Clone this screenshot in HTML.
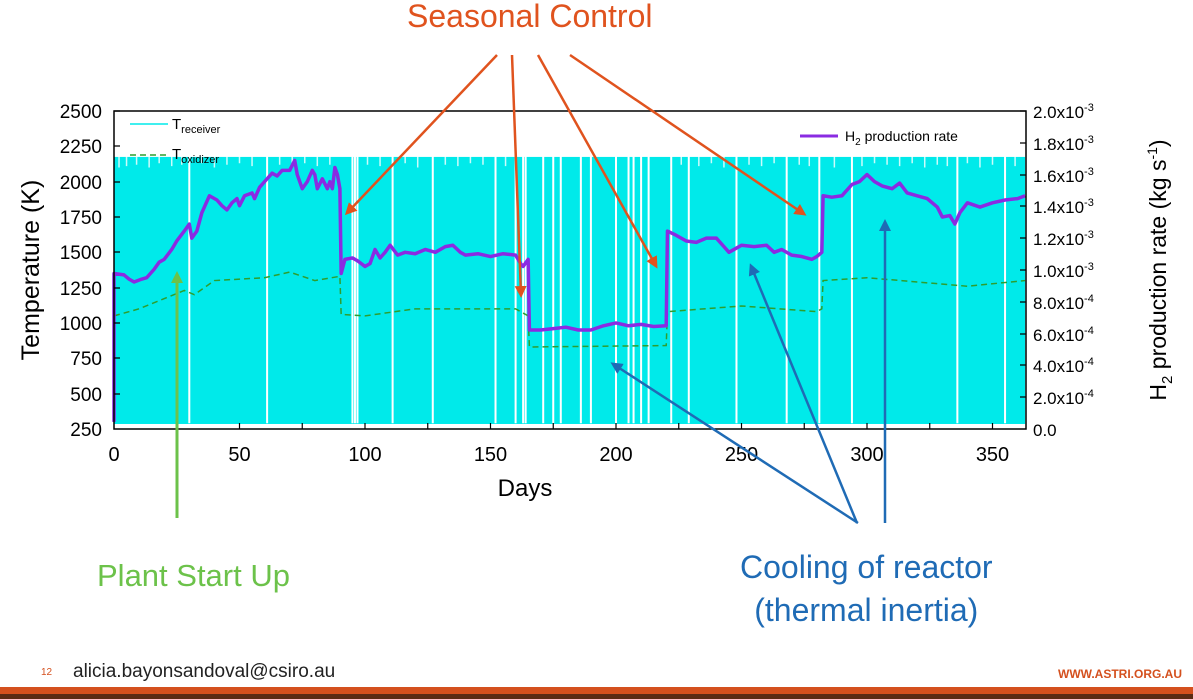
<!DOCTYPE html>
<html><head><style>
body{margin:0;background:#fff;width:1193px;height:699px;overflow:hidden;font-family:"Liberation Sans",sans-serif;position:relative}
.t{position:absolute;white-space:nowrap}
</style></head><body>
<svg width="1193" height="699" style="position:absolute;left:0;top:0" font-family="Liberation Sans, sans-serif">
<defs>
<marker id="ao" markerWidth="12" markerHeight="12" refX="9" refY="6" orient="auto" markerUnits="userSpaceOnUse" viewBox="0 0 12 12"><path d="M0,0L12,6L0,12z" fill="#e0531e"/></marker>
<marker id="ab" markerWidth="12" markerHeight="12" refX="9" refY="6" orient="auto" markerUnits="userSpaceOnUse" viewBox="0 0 12 12"><path d="M0,0L12,6L0,12z" fill="#1f6bb5"/></marker>
<marker id="ag" markerWidth="12" markerHeight="12" refX="9" refY="6" orient="auto" markerUnits="userSpaceOnUse" viewBox="0 0 12 12"><path d="M0,0L12,6L0,12z" fill="#6cc24a"/></marker>
</defs>
<g transform="translate(114,111) scale(2.51,-0.1413) translate(0,-2500)">
<rect x="0" y="285" width="363" height="1890" fill="#00eaea"/>
<g stroke="#fff" fill="none" stroke-width="0.8">
<path d="M30,290V2200M61,290V2200M95,290V2200M96,290V2200M97,290V2200M111,290V2200M127,290V2200M152,290V2200M160,290V2200M163,290V2200M164,290V2200M171,290V2200M175,290V2200M178,290V2200M190,290V2200M205,290V2200M207,290V2200M210,290V2200M213,290V2200M222,290V2200M229,290V2200M248,290V2200M268,290V2200M281,290V2200M294,290V2200M336,290V2200M355,290V2200M200,290V2200M186,290V2200"/>
</g>
<g stroke="#fff" fill="none" stroke-width="0.6" opacity="0.8">
<path d="M2,2100V2200M5,2110V2200M9,2120V2200M14,2100V2200M18,2130V2200M23,2110V2200M27,2120V2200M35,2130V2200M40,2100V2200M45,2120V2200M50,2130V2200M55,2110V2200M66,2120V2200M71,2100V2200M76,2130V2200M81,2110V2200M86,2120V2200M101,2120V2200M106,2110V2200M116,2130V2200M121,2100V2200M132,2120V2200M137,2110V2200M142,2130V2200M147,2120V2200M156,2110V2200M226,2120V2200M233,2110V2200M238,2130V2200M243,2100V2200M253,2120V2200M258,2110V2200M263,2130V2200M273,2120V2200M277,2110V2200M287,2100V2200M298,2110V2200M303,2130V2200M308,2120V2200M313,2110V2200M318,2130V2200M323,2100V2200M328,2120V2200M332,2110V2200M340,2130V2200M345,2100V2200M350,2120V2200M359,2110V2200"/>
</g>
<polyline vector-effect="non-scaling-stroke" fill="none" stroke="#2e9e2e" stroke-width="1.5" stroke-dasharray="6,4" points="0,1050 10,1100 28,1230 32,1200 40,1300 60,1320 70,1360 80,1300 90,1330 90.5,1060 100,1050 120,1100 160,1100 165,1050 165.5,830 220,840 220.5,1080 250,1120 280,1080 282,1100 282.5,1300 300,1320 340,1260 363,1300"/>
<polyline vector-effect="non-scaling-stroke" fill="none" stroke="#8a2be2" stroke-width="3.5" stroke-linejoin="round" points="0,300 0,1350 4,1340 6,1310 8,1290 11,1310 13,1320 16,1380 18,1430 20,1450 23,1520 25,1580 28,1650 30,1700 31,1600 33,1650 35,1780 38,1900 41,1870 43,1830 45,1800 47,1850 49,1880 50,1830 52,1900 55,1920 56,1880 58,1960 60,2000 63,2060 65,2040 67,2080 70,2080 72,2150 73,2050 75,1950 77,2000 79,2080 80,2050 81,1950 83,2020 85,1950 86,2000 87,1950 88,2100 89,2050 90,1950 90.5,1350 92,1450 95,1460 97,1440 100,1400 102,1420 104,1520 106,1460 108,1500 110,1550 113,1480 116,1500 120,1490 124,1520 128,1500 132,1540 135,1550 138,1500 140,1480 145,1490 150,1470 155,1490 160,1480 162,1420 163,1400 165,1450 165.5,950 170,950 175,960 180,970 185,950 190,950 195,980 200,1000 205,980 210,990 215,975 220,980 220.5,1650 224,1620 228,1580 232,1570 236,1600 240,1600 243,1540 245,1500 248,1530 250,1550 255,1540 260,1550 263,1500 266,1520 270,1480 274,1470 278,1450 280,1470 282,1500 282.5,1900 286,1890 290,1900 294,1980 297,2000 300,2050 303,2000 306,1970 310,1950 313,1990 316,1920 320,1900 324,1880 328,1820 330,1750 333,1760 335,1700 337,1780 340,1850 345,1820 350,1850 355,1870 360,1880 363,1900"/>
</g>
<rect x="114" y="111" width="912" height="318" fill="none" stroke="#000" stroke-width="1.5"/>
<g stroke="#000" stroke-width="1.2">
<path d="M114,111h6M114,146h6M114,182h6M114,217h6M114,252h6M114,288h6M114,323h6M114,358h6M114,394h6
M1026,111h-6M1026,143h-6M1026,175h-6M1026,206h-6M1026,238h-6M1026,270h-6M1026,302h-6M1026,334h-6M1026,365h-6M1026,397h-6
M176.75,429v-6M239.5,429v-6M302.25,429v-6M365,429v-6M427.75,429v-6M490.5,429v-6M553.25,429v-6M616,429v-6M678.75,429v-6M741.5,429v-6M804.25,429v-6M867,429v-6M929.75,429v-6M992.5,429v-6"/>
</g>
<g font-size="19" text-anchor="end" fill="#000">
<text x="102" y="118">2500</text><text x="102" y="153">2250</text><text x="102" y="189">2000</text><text x="102" y="224">1750</text><text x="102" y="259">1500</text><text x="102" y="295">1250</text><text x="102" y="330">1000</text><text x="102" y="365">750</text><text x="102" y="401">500</text><text x="102" y="436">250</text>
</g>
<g font-size="20" text-anchor="middle" fill="#000">
<text x="114" y="461">0</text><text x="239.5" y="461">50</text><text x="365" y="461">100</text><text x="490.5" y="461">150</text><text x="616" y="461">200</text><text x="741.5" y="461">250</text><text x="867" y="461">300</text><text x="992.5" y="461">350</text>
</g>
<text x="525" y="496" font-size="24" text-anchor="middle">Days</text>
<text transform="translate(39,270) rotate(-90)" font-size="25" text-anchor="middle">Temperature (K)</text>
<g font-size="17" fill="#000">
<text x="1033" y="118">2.0x10<tspan dy="-7" font-size="11">-3</tspan></text>
<text x="1033" y="150">1.8x10<tspan dy="-7" font-size="11">-3</tspan></text>
<text x="1033" y="182">1.6x10<tspan dy="-7" font-size="11">-3</tspan></text>
<text x="1033" y="213">1.4x10<tspan dy="-7" font-size="11">-3</tspan></text>
<text x="1033" y="245">1.2x10<tspan dy="-7" font-size="11">-3</tspan></text>
<text x="1033" y="277">1.0x10<tspan dy="-7" font-size="11">-3</tspan></text>
<text x="1033" y="309">8.0x10<tspan dy="-7" font-size="11">-4</tspan></text>
<text x="1033" y="341">6.0x10<tspan dy="-7" font-size="11">-4</tspan></text>
<text x="1033" y="372">4.0x10<tspan dy="-7" font-size="11">-4</tspan></text>
<text x="1033" y="404">2.0x10<tspan dy="-7" font-size="11">-4</tspan></text>
<text x="1033" y="436">0.0</text>
</g>
<text transform="translate(1166,270) rotate(-90)" font-size="23" text-anchor="middle">H<tspan font-size="15" dy="6">2</tspan><tspan dy="-6"> production rate (kg s</tspan><tspan font-size="14" dy="-9">-1</tspan><tspan dy="9">)</tspan></text>
<line x1="130" y1="124" x2="168" y2="124" stroke="#00eaea" stroke-width="1.5"/>
<text x="172" y="129" font-size="15">T<tspan font-size="11" dy="4">receiver</tspan></text>
<line x1="130" y1="155" x2="168" y2="155" stroke="#2e9e2e" stroke-width="1.5" stroke-dasharray="6,4"/>
<text x="172" y="159" font-size="15">T<tspan font-size="11" dy="4">oxidizer</tspan></text>
<line x1="800" y1="136" x2="838" y2="136" stroke="#8a2be2" stroke-width="3"/>
<text x="845" y="141" font-size="14">H<tspan font-size="10" dy="4">2</tspan><tspan dy="-4"> production rate</tspan></text>
<g stroke="#e0531e" stroke-width="2.5" marker-end="url(#ao)">
<line x1="497" y1="55" x2="347" y2="213"/><line x1="512" y1="55" x2="521" y2="295"/><line x1="538" y1="55" x2="656" y2="266"/><line x1="570" y1="55" x2="804" y2="214"/>
</g>
<g stroke="#1f6bb5" stroke-width="2.5" marker-end="url(#ab)">
<line x1="857" y1="523" x2="751" y2="266"/><line x1="858" y1="523" x2="613" y2="364"/><line x1="885" y1="523" x2="885" y2="222"/>
</g>
<line x1="177" y1="518" x2="177" y2="274" stroke="#6cc24a" stroke-width="3" marker-end="url(#ag)"/>
<rect x="0" y="687" width="1193" height="7" fill="#d4501e"/>
<rect x="0" y="694" width="1193" height="5" fill="#5a2a14"/>
</svg>
<div class="t" style="left:407px;top:-2px;font-size:32px;color:#e0531e">Seasonal Control</div>
<div class="t" style="left:97px;top:558px;font-size:31px;color:#6cc24a">Plant Start Up</div>
<div class="t" style="left:740px;top:546px;font-size:32px;color:#1f6bb5;text-align:center;line-height:43px">Cooling of reactor<br>(thermal inertia)</div>
<div class="t" style="left:41px;top:667px;font-size:10px;color:#d4501e">12</div>
<div class="t" style="left:73px;top:661px;font-size:19px;color:#222">alicia.bayonsandoval@csiro.au</div>
<div class="t" style="left:1058px;top:667px;font-size:12px;color:#d4501e;font-weight:bold">WWW.ASTRI.ORG.AU</div>
</body></html>
